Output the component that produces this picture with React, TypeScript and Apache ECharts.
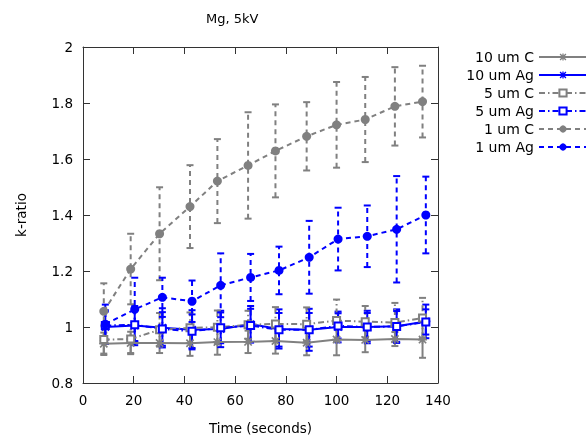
import React, { useEffect, useRef } from 'react';
import * as echarts from 'echarts';

// Measurement times (seconds)
const timeC = [8.2, 18.8, 30.2, 42.2, 53.0, 65.1, 75.9, 88.2, 100.0, 111.3, 123.0, 133.9];
const timeAg = [8.8, 20.4, 31.3, 43.0, 54.3, 66.1, 77.3, 89.2, 100.6, 112.1, 123.7, 135.2];

// k-ratio values and error half-widths
const c10 = [0.94, 0.943, 0.943, 0.942, 0.946, 0.947, 0.95, 0.944, 0.955, 0.954, 0.957, 0.955];
const c10Err = [0.04, 0.04, 0.036, 0.045, 0.045, 0.04, 0.045, 0.045, 0.056, 0.044, 0.025, 0.065];
const ag10 = [1.0, 1.005, 0.997, 0.99, 0.993, 1.01, 0.993, 0.99, 1.0, 1.0, 1.003, 1.02];
const ag10Err = [0.06, 0.07, 0.07, 0.07, 0.065, 0.065, 0.07, 0.075, 0.055, 0.058, 0.06, 0.06];
const c5 = [0.955, 0.957, 0.99, 0.997, 0.999, 1.008, 1.011, 1.01, 1.023, 1.019, 1.016, 1.032];
const c5Err = [0.05, 0.05, 0.06, 0.055, 0.06, 0.05, 0.06, 0.06, 0.075, 0.056, 0.07, 0.072];
const ag5 = [1.005, 1.008, 0.993, 0.985, 0.997, 1.005, 0.99, 0.99, 1.004, 1.0, 1.002, 1.018];
const ag5Err = [0.05, 0.06, 0.06, 0.06, 0.055, 0.06, 0.06, 0.06, 0.045, 0.05, 0.055, 0.045];
const c1 = [1.056, 1.207, 1.333, 1.43, 1.521, 1.577, 1.629, 1.681, 1.722, 1.741, 1.788, 1.805];
const c1Err = [0.1, 0.126, 0.166, 0.148, 0.15, 0.19, 0.166, 0.122, 0.153, 0.152, 0.14, 0.128];
const ag1 = [1.01, 1.063, 1.106, 1.092, 1.149, 1.177, 1.202, 1.249, 1.314, 1.324, 1.349, 1.4];
const ag1Err = [0.07, 0.113, 0.07, 0.074, 0.114, 0.084, 0.085, 0.13, 0.112, 0.11, 0.19, 0.137];

const seriesNames = ['10 um C', '10 um Ag', '5 um C', '5 um Ag', '1 um C', '1 um Ag'];
const xTicks = { min: 0, max: 140, interval: 20 };
const yTicks = { min: 0.8, max: 2, interval: 0.2 };

const GRAY = '#808080';
const BLUE = '#0000ff';
const FONT = 'DejaVu Sans';
const ASTERISK =
  'path://M4.1 0 H5.9 V10 H4.1 Z M0 4.1 H10 V5.9 H0 Z M1.6 0.3 L9.7 8.4 L8.4 9.7 L0.3 1.6 Z M8.4 0.3 L9.7 1.6 L1.6 9.7 L0.3 8.4 Z';

type Def = {
  name: string;
  x: number[];
  y: number[];
  err: number[];
  color: string;
  dash: number[] | null;
  symbol: string;
  size: number;
};

export default function App() {
  const ref = useRef<HTMLDivElement>(null);
  useEffect(() => {
    if (!ref.current) return;
    const chart = echarts.init(ref.current, null, { renderer: 'svg' });
    const dashed = [5, 4];
    const dashDot = [6, 3, 1.5, 3];
    const defs: Def[] = [
      { name: seriesNames[0], x: timeC, y: c10, err: c10Err, color: GRAY, dash: null, symbol: ASTERISK, size: 9 },
      { name: seriesNames[1], x: timeAg, y: ag10, err: ag10Err, color: BLUE, dash: null, symbol: ASTERISK, size: 9 },
      { name: seriesNames[2], x: timeC, y: c5, err: c5Err, color: GRAY, dash: dashDot, symbol: 'emptyRect', size: 7 },
      { name: seriesNames[3], x: timeAg, y: ag5, err: ag5Err, color: BLUE, dash: dashDot, symbol: 'emptyRect', size: 7 },
      { name: seriesNames[4], x: timeC, y: c1, err: c1Err, color: GRAY, dash: dashed, symbol: 'circle', size: 9 },
      { name: seriesNames[5], x: timeAg, y: ag1, err: ag1Err, color: BLUE, dash: dashed, symbol: 'circle', size: 9 },
    ];
    const series: any[] = [];
    defs.forEach((d) => {
      series.push({
        type: 'custom',
        name: d.name + ' error',
        silent: true,
        data: d.x.map((x, i) => [x, d.y[i] - d.err[i], d.y[i] + d.err[i]]),
        encode: { x: 0, y: [1, 2] },
        renderItem: (params: any, api: any) => {
          const x = api.value(0);
          const lo = api.coord([x, api.value(1)]);
          const hi = api.coord([x, api.value(2)]);
          const style = { stroke: d.color, lineWidth: 2, lineDash: d.dash || undefined, fill: 'none' };
          const capStyle = { stroke: d.color, lineWidth: 2, fill: 'none' };
          return {
            type: 'group',
            children: [
              { type: 'line', shape: { x1: lo[0], y1: lo[1], x2: hi[0], y2: hi[1] }, style },
              { type: 'line', shape: { x1: lo[0] - 3.5, y1: lo[1], x2: lo[0] + 3.5, y2: lo[1] }, style: capStyle },
              { type: 'line', shape: { x1: hi[0] - 3.5, y1: hi[1], x2: hi[0] + 3.5, y2: hi[1] }, style: capStyle },
            ],
          };
        },
      });
      series.push({
        type: 'line',
        name: d.name,
        data: d.x.map((x, i) => [x, d.y[i]]),
        symbol: d.symbol,
        symbolSize: d.size,
        showAllSymbol: true,
        lineStyle: { color: d.color, width: 2, type: d.dash || 'solid' },
        itemStyle: {
          color: d.color,
          borderColor: d.color,
          borderWidth: d.symbol === 'emptyRect' ? 2 : 0,
        },
        emphasis: { disabled: true },
      });
    });

    const axisLine = { show: true, onZero: false, lineStyle: { color: '#333', width: 1 } };
    const tick = { show: true, inside: true, length: 7, lineStyle: { color: '#333', width: 1 } };
    const label = { fontSize: 13.5, color: '#000', fontFamily: FONT, margin: 10 };

    chart.setOption({
      animation: false,
      textStyle: { fontFamily: FONT },
      title: {
        text: 'Mg, 5kV',
        left: 206,
        top: 12,
        padding: 0,
        textStyle: { fontSize: 13, fontWeight: 'normal', color: '#000', fontFamily: FONT },
      },
      grid: { left: 83, top: 47, width: 355, height: 341, containLabel: false },
      legend: {
        orient: 'vertical',
        right: -2,
        top: 50,
        padding: 0,
        align: 'right',
        itemWidth: 48,
        itemHeight: 9,
        itemGap: 4,
        selectedMode: false,
        data: seriesNames,
        textStyle: { fontSize: 14, color: '#000', fontFamily: FONT },
      },
      xAxis: [
        {
          type: 'value',
          position: 'bottom',
          ...xTicks,
          name: 'Time (seconds)',
          nameLocation: 'middle',
          nameGap: 38,
          nameTextStyle: { fontSize: 13.5, color: '#000', fontFamily: FONT },
          axisLine,
          axisTick: tick,
          axisLabel: label,
          splitLine: { show: false },
        },
        {
          type: 'value',
          position: 'top',
          ...xTicks,
          axisLine,
          axisTick: tick,
          axisLabel: { show: false },
          splitLine: { show: false },
        },
      ],
      yAxis: [
        {
          type: 'value',
          position: 'left',
          ...yTicks,
          name: 'k-ratio',
          nameLocation: 'middle',
          nameGap: 55,
          nameTextStyle: { fontSize: 13.5, color: '#000', fontFamily: FONT },
          axisLine,
          axisTick: tick,
          axisLabel: { ...label, formatter: (v: number) => String(Math.round(v * 10) / 10) },
          splitLine: { show: false },
        },
        {
          type: 'value',
          position: 'right',
          ...yTicks,
          axisLine,
          axisTick: tick,
          axisLabel: { show: false },
          splitLine: { show: false },
        },
      ],
      series,
    });
    return () => chart.dispose();
  }, []);
  return <div ref={ref} style={{ position: 'fixed', left: 0, top: 0, width: 586, height: 440 }} />;
}
